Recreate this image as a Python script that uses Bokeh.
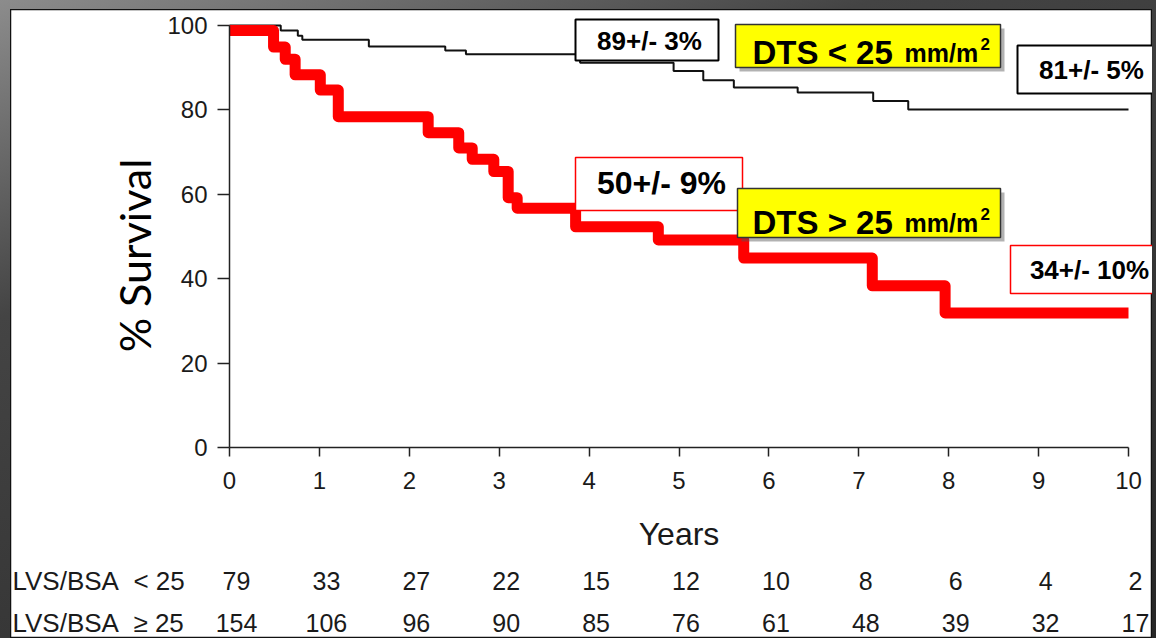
import math
from bokeh.plotting import figure
from bokeh.layouts import column
from bokeh.models import Range1d, FixedTicker
from bokeh.core.properties import value
from bokeh.embed import file_html
from bokeh.resources import INLINE

# ---------------- data ----------------
low_years = [0, 0.57, 0.76, 0.81, 1.55, 2.40, 2.63, 3.90, 4.94, 5.27, 5.61, 6.32, 7.16, 7.55, 10]
low_surv = [100, 98.8, 97.6, 96.6, 95.0, 94.1, 93.2, 91.2, 89.2, 87.0, 85.3, 84.1, 82.1, 80.1, 80.1]

high_years = [0, 0.49, 0.62, 0.73, 1.01, 1.21, 2.21, 2.55, 2.70, 2.94, 3.10, 3.20, 3.85, 4.77,
              5.72, 7.15, 7.96, 10]
high_surv = [98.8, 94.9, 92.0, 88.3, 84.7, 78.4, 74.6, 71.0, 68.3, 65.4, 59.2, 56.7, 52.3, 49.2,
             44.9, 38.3, 31.9, 31.9]

risk_years = [0, 1, 2, 3, 4, 5, 6, 7, 8, 9, 10]
risk_low = [79, 33, 27, 22, 15, 12, 10, 8, 6, 4, 2]
risk_high = [154, 106, 96, 90, 85, 76, 61, 48, 39, 32, 17]
row_labels = ["LVS/BSA\u00a0\u00a0< 25", "LVS/BSA\u00a0\u00a0\u2265 25"]

x_ticks = [0, 1, 2, 3, 4, 5, 6, 7, 8, 9, 10]
y_ticks = [0, 20, 40, 60, 80, 100]

low_est = "89+/- 3%"
low_end = "81+/- 5%"
high_est = "50+/- 9%"
high_end = "34+/- 10%"

# ---------------- layout constants (page pixels) ----------------
W, H = 1156, 638
ML, MT, MR = 10, 9, 4                 # dark page border
PW, PH = W - ML - MR, H - MT
PX0, PY0 = 229, 447                   # page pixel of (0 years, 0 %)
PXY, PYU = 89.9, 4.22                 # pixels per year / per %


def dx(px):
    return (px - PX0) / PXY


def dy(py):
    return (PY0 - py) / PYU


p = figure(width=PW, height=PH, output_backend="svg", toolbar_location=None,
           x_range=Range1d(dx(ML), dx(W - MR)), y_range=Range1d(dy(H), dy(MT)),
           min_border=0, margin=(MT, MR, 0, ML))
p.border_fill_color = "white"
p.background_fill_color = "white"
p.outline_line_color = "#111111"
p.outline_line_width = 1.5
p.xgrid.visible = False
p.ygrid.visible = False

axis_col = "#222222"
FONT = "Liberation Sans"

xa = p.xaxis[0]
xa.fixed_location = 0
xa.ticker = FixedTicker(ticks=x_ticks)
xa.bounds = (0, 10)
xa.axis_line_color = axis_col
xa.axis_line_width = 1.5
xa.major_tick_line_color = axis_col
xa.major_tick_line_width = 1.5
xa.major_tick_out = 9
xa.major_tick_in = 0
xa.minor_tick_line_color = None
xa.major_label_text_font = FONT
xa.major_label_text_font_size = "24px"
xa.major_label_text_color = "#1a1a1a"
xa.major_label_standoff = 15
xa.axis_label = "Years"
xa.axis_label_text_font = FONT
xa.axis_label_text_font_style = "normal"
xa.axis_label_text_font_size = "32px"
xa.axis_label_text_color = "#1a1a1a"
xa.axis_label_standoff = 24

ya = p.yaxis[0]
ya.fixed_location = 0
ya.ticker = FixedTicker(ticks=y_ticks)
ya.bounds = (0, 100)
ya.axis_line_color = axis_col
ya.axis_line_width = 1.5
ya.major_tick_line_color = axis_col
ya.major_tick_line_width = 1.5
ya.major_tick_out = 12
ya.major_tick_in = 0
ya.minor_tick_line_color = None
ya.major_label_text_font = FONT
ya.major_label_text_font_size = "24px"
ya.major_label_text_color = "#1a1a1a"
ya.major_label_standoff = 10

p.text(x=[dx(134)], y=[dy(255)], text=["% Survival"], angle=math.pi / 2,
       text_align="center", text_baseline="middle",
       text_font=value("Lato"), text_font_size="43px", text_color="black")

# ---------------- curves ----------------
p.step(low_years, low_surv, mode="after", line_color="#111111", line_width=2)
p.step(high_years, high_surv, mode="after", line_color="#ff0000", line_width=11,
       line_join="round")

# ---------------- annotation boxes ----------------
bold = value(FONT)
for (l, r, t, b, c, lw) in [(575, 718, 19, 60, "black", 2),
                            (1017, 1170, 45, 93, "black", 2),
                            (575, 742, 157, 210, "red", 1.5),
                            (1010, 1170, 245, 293, "red", 1.5)]:
    p.quad(left=[dx(l)], right=[dx(r)], top=[dy(t)], bottom=[dy(b)],
           fill_color="white", line_color=c, line_width=lw)

for (l, r, t, b) in [(735, 1000, 24, 67), (737, 1000, 188, 237)]:
    p.quad(left=[dx(l + 4)], right=[dx(r + 4)], top=[dy(t + 4)], bottom=[dy(b + 4)],
           fill_color="#555555", fill_alpha=0.45, line_color=None)
    p.quad(left=[dx(l)], right=[dx(r)], top=[dy(t)], bottom=[dy(b)],
           fill_color="#ffff00", line_color="#333333", line_width=1.5)

for (txt, cx, cy, fs) in [(low_est, 649, 40, "26px"), (low_end, 1091, 69, "26px"),
                          (high_est, 661, 182, "32px"), (high_end, 1089, 269, "26px")]:
    p.text(x=[dx(cx)], y=[dy(cy)], text=[txt], text_align="center", text_baseline="middle",
           text_font=bold, text_font_style="bold", text_font_size=fs, text_color="black")

for (sym, base) in [("<", 52), (">", 222)]:
    p.text(x=[dx(752)], y=[dy(base)], text=["DTS %s 25" % sym], text_align="left",
           text_baseline="alphabetic", text_font=bold, text_font_style="bold",
           text_font_size="33px", text_color="black")
    p.text(x=[dx(904)], y=[dy(base)], text=["mm/m"], text_align="left",
           text_baseline="alphabetic", text_font=bold, text_font_style="bold",
           text_font_size="25px", text_color="black")
    p.text(x=[dx(980)], y=[dy(base - 9)], text=["2"], text_align="left",
           text_baseline="alphabetic", text_font=bold, text_font_style="bold",
           text_font_size="17px", text_color="black")

# ---------------- number at risk ----------------
row_y = [dy(580), dy(622)]
for vals, yy, lab in zip([risk_low, risk_high], row_y, row_labels):
    p.text(x=risk_years, y=[yy] * len(risk_years), text=[str(v) for v in vals],
           x_offset=7, text_align="center", text_baseline="middle",
           text_font=value(FONT), text_font_size="25px", text_color="#1a1a1a")
    p.text(x=[dx(12)], y=[yy], text=[lab], text_align="left", text_baseline="middle",
           text_font=value(FONT), text_font_size="26px", text_color="#1a1a1a")

page = column(p, styles={"background": "linear-gradient(160deg, #8c8c8c 0%, #444444 30%, #262626 100%)"})

open("out.html", "w").write(file_html(page, INLINE))
